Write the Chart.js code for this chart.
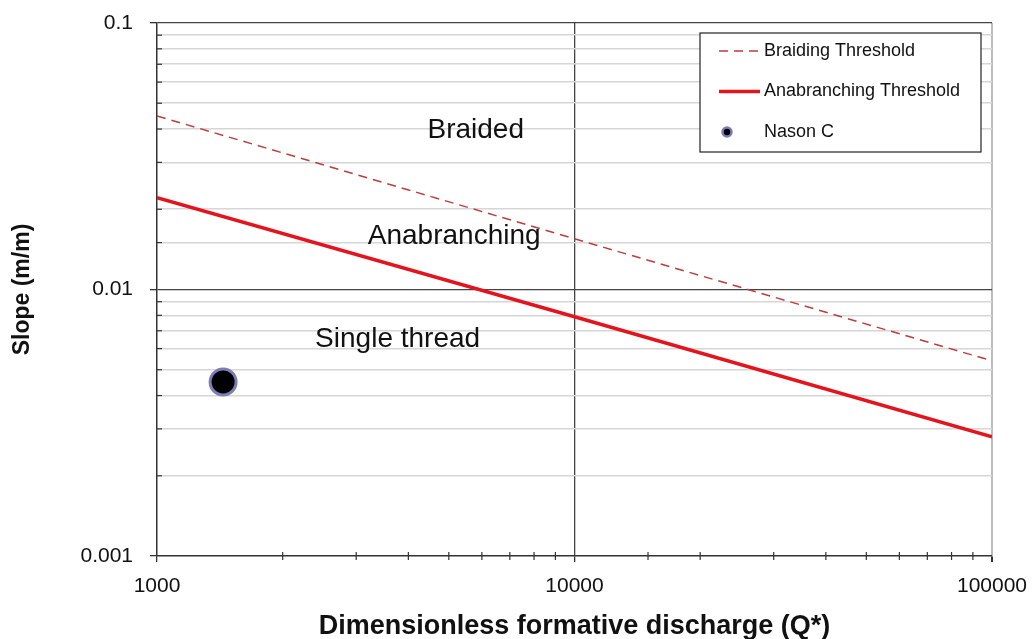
<!DOCTYPE html>
<html>
<head>
<meta charset="utf-8">
<script src="https://cdn.jsdelivr.net/npm/chart.js@4.4.1/dist/chart.umd.min.js"></script>
<style>
  html, body { margin: 0; padding: 0; background: #fff; }
  #wrap { width: 1033px; height: 639px; }
</style>
</head>
<body>
<div id="wrap"><canvas id="myChart"></canvas></div>
<script>
// values
const dischargeQ = [1000, 10000, 100000];
const braidingSlope = [0.0448, 0.0155, 0.0054];
const anabranchSlope = [0.0221, 0.0079, 0.0028];
const nasonQ = [1440];
const nasonSlope = [0.0045];

const xTickLabels = ['1000', '10000', '100000'];
const yTickLabels = ['0.001', '0.01', '0.1'];

const regionLabels = ['Braided', 'Anabranching', 'Single thread'];
const regionQ = [5800, 5150, 3770];
const regionSlope = [0.0395, 0.0158, 0.0065];

const pts = (xs, ys) => xs.map((x, i) => ({ x: x, y: ys[i] }));
const isDecade = v => Math.abs(Math.log10(v) - Math.round(Math.log10(v))) < 1e-6;
const fmt = v => {
  const all = xTickLabels.concat(yTickLabels);
  return all.find(s => Math.abs(parseFloat(s) - v) < v * 1e-6) || '';
};

Chart.defaults.font.family = '"Liberation Sans", Arial, sans-serif';
Chart.defaults.color = '#111';

const ctx = document.getElementById('myChart');

// small minor tick marks: inside on y axis, crossing on x axis
const minorTicks = {
  id: 'minorTicks',
  afterDatasetsDraw(chart) {
    const c = chart.ctx, xs = chart.scales.x, ys = chart.scales.y, a = chart.chartArea;
    c.save();
    c.strokeStyle = '#333';
    c.lineWidth = 1.2;
    ys.ticks.forEach(t => {
      if (isDecade(t.value)) return;
      const py = ys.getPixelForValue(t.value);
      c.beginPath(); c.moveTo(a.left, py); c.lineTo(a.left + 5, py); c.stroke();
    });
    xs.ticks.forEach(t => {
      if (isDecade(t.value)) return;
      const px = xs.getPixelForValue(t.value);
      c.beginPath(); c.moveTo(px, a.bottom - 4); c.lineTo(px, a.bottom + 4); c.stroke();
    });
    c.restore();
  }
};

// region names written on the plot
const regionText = {
  id: 'regionText',
  afterDatasetsDraw(chart) {
    const c = chart.ctx, xs = chart.scales.x, ys = chart.scales.y;
    c.save();
    c.font = '28px "Liberation Sans", Arial, sans-serif';
    c.fillStyle = '#111';
    c.textAlign = 'center';
    c.textBaseline = 'middle';
    regionLabels.forEach((s, i) => {
      c.fillText(s, xs.getPixelForValue(regionQ[i]), ys.getPixelForValue(regionSlope[i]));
    });
    c.restore();
  }
};

// boxed legend in the top right corner
const boxLegend = {
  id: 'boxLegend',
  afterDraw(chart) {
    const c = chart.ctx, a = chart.chartArea;
    const w = 281, h = 119;
    const x0 = a.right - 11 - w, y0 = a.top + 10;
    c.save();
    c.fillStyle = '#fff';
    c.fillRect(x0, y0, w, h);
    c.strokeStyle = '#222';
    c.lineWidth = 1.2;
    c.strokeRect(x0, y0, w, h);
    c.font = '18px "Liberation Sans", Arial, sans-serif';
    c.textBaseline = 'middle';
    c.fillStyle = '#111';
    chart.data.datasets.forEach((ds, i) => {
      const cy = y0 + 18 + i * 40.5;
      if (ds.showLine) {
        c.strokeStyle = ds.borderColor;
        c.lineWidth = ds.borderWidth;
        c.setLineDash(ds.borderDash || []);
        c.beginPath(); c.moveTo(x0 + 19, cy); c.lineTo(x0 + 60, cy); c.stroke();
        c.setLineDash([]);
      } else {
        c.beginPath(); c.arc(x0 + 27, cy, 4.5, 0, Math.PI * 2);
        c.fillStyle = ds.pointBackgroundColor; c.fill();
        c.lineWidth = 2.5; c.strokeStyle = ds.pointBorderColor; c.stroke();
        c.fillStyle = '#111';
      }
      c.fillText(ds.label, x0 + 64, cy);
    });
    c.restore();
  }
};

new Chart(ctx, {
  type: 'scatter',
  data: {
    datasets: [{
      label: 'Braiding Threshold',
      data: pts(dischargeQ, braidingSlope),
      showLine: true,
      borderColor: 'rgb(190, 60, 60)',
      borderWidth: 1.5,
      borderDash: [9, 6],
      pointRadius: 0,
    }, {
      label: 'Anabranching Threshold',
      data: pts(dischargeQ, anabranchSlope),
      showLine: true,
      borderColor: 'rgb(228, 20, 30)',
      borderWidth: 3.5,
      pointRadius: 0,
    }, {
      label: 'Nason C',
      data: pts(nasonQ, nasonSlope),
      showLine: false,
      pointRadius: 13,
      pointBorderWidth: 3,
      pointBackgroundColor: '#000',
      pointBorderColor: 'rgb(125, 125, 185)',
    }],
  },
  options: {
    animation: false,
    responsive: true,
    maintainAspectRatio: false,
    layout: { padding: { top: 23, right: 41, left: 0, bottom: 0 } },
    scales: {
      x: {
        type: 'logarithmic',
        min: 1000,
        max: 100000,
        afterFit: s => { s.height = 83; s.paddingLeft = 0; s.paddingRight = 0; },
        border: { color: '#333', width: 1.5 },
        grid: {
          color: c => c.tick.value === 10000 ? '#444' : (c.tick.value === 100000 ? '#bbb' : 'rgba(0,0,0,0)'),
          lineWidth: c => c.tick.value === 100000 ? 2 : 1.3,
          tickColor: c => isDecade(c.tick.value) ? '#333' : 'rgba(0,0,0,0)',
          tickLength: 6,
        },
        ticks: {
          autoSkip: false,
          maxRotation: 0,
          padding: 12,
          font: { size: 21 },
          callback: v => fmt(v),
        },
        title: {
          display: true,
          text: 'Dimensionless formative discharge (Q*)',
          font: { size: 27, weight: 'bold', lineHeight: 0.9 },
          padding: { top: 0, bottom: 0 },
        },
      },
      y: {
        type: 'logarithmic',
        min: 0.001,
        max: 0.1,
        afterFit: s => { s.width = 157; s.paddingTop = 0; s.paddingBottom = 0; },
        border: { color: '#333', width: 1.5 },
        grid: {
          color: c => (c.tick.value === 0.01 || c.tick.value === 0.1) ? '#444' : (c.tick.value === 0.001 ? 'rgba(0,0,0,0)' : '#d6d6d6'),
          lineWidth: c => isDecade(c.tick.value) ? 1.3 : 1.6,
          tickColor: c => isDecade(c.tick.value) ? '#333' : 'rgba(0,0,0,0)',
          tickLength: 7,
        },
        ticks: {
          autoSkip: false,
          padding: 17,
          font: { size: 21 },
          callback: v => fmt(v),
        },
        title: {
          display: true,
          text: 'Slope (m/m)',
          font: { size: 23, weight: 'bold', lineHeight: 1.1 },
          padding: { top: 10, bottom: 0 },
        },
      },
    },
    plugins: {
      legend: { display: false },
      tooltip: { enabled: false },
    },
  },
  plugins: [minorTicks, regionText, boxLegend],
});
</script>
</body>
</html>
